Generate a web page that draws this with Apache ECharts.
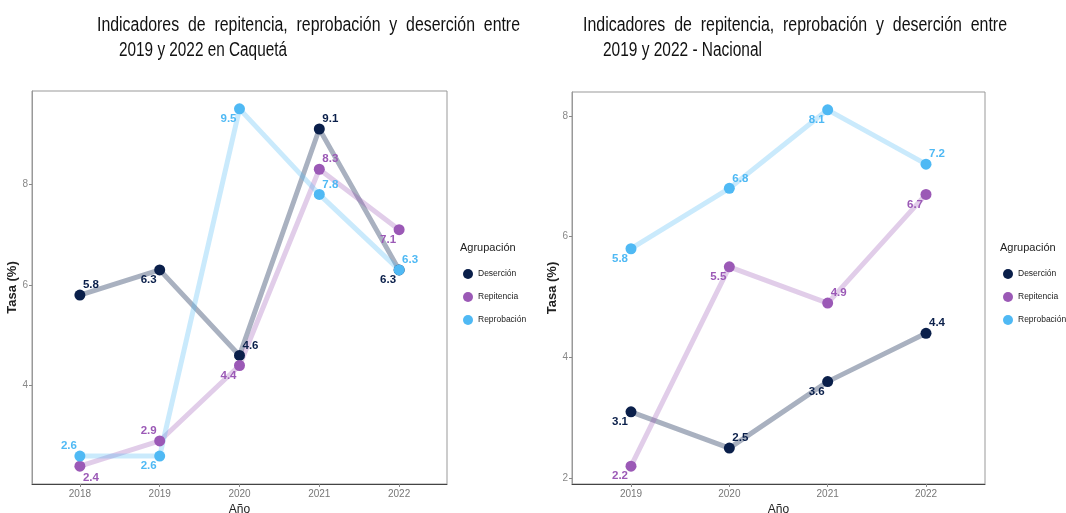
<!DOCTYPE html>
<html><head><meta charset="utf-8">
<script src="https://cdn.jsdelivr.net/npm/echarts@6/dist/echarts.min.js"></script>
<style>html,body{margin:0;padding:0;background:#fff}#c{width:1066px;height:513px}</style>
</head><body><div id="c"></div>
<script>
const seriesNames = ['Deserción', 'Repitencia', 'Reprobación'];
const yearsCaqueta = [2018, 2019, 2020, 2021, 2022];
const desercionCaqueta = [5.8, 6.3, 4.6, 9.1, 6.3];
const repitenciaCaqueta = [2.4, 2.9, 4.4, 8.3, 7.1];
const reprobacionCaqueta = [2.6, 2.6, 9.5, 7.8, 6.3];
const yearsNacional = [2019, 2020, 2021, 2022];
const desercionNacional = [3.1, 2.5, 3.6, 4.4];
const repitenciaNacional = [2.2, 5.5, 4.9, 6.7];
const reprobacionNacional = [5.8, 6.8, 8.1, 7.2];
const yTicksCaqueta = [4, 6, 8];
const yTicksNacional = [2, 4, 6, 8];
const titleCaqueta = ['Indicadores  de  repitencia,  reprobación  y  deserción  entre', '2019 y 2022 en Caquetá'];
const titleNacional = ['Indicadores  de  repitencia,  reprobación  y  deserción  entre', '2019 y 2022 - Nacional'];

// label placement (style only)
const placeCaqueta = [
  ['tr', 'bl', 'tr', 'tr', 'bl'],
  ['br', 'tl', 'bl', 'tr', 'bl'],
  ['tl', 'bl', 'bl', 'tr', 'tr']
];
const placeNacional = [
  ['bl', 'tr', 'bl', 'tr'],
  ['bl', 'bl', 'tr', 'bl'],
  ['bl', 'tr', 'bl', 'tr']
];
const offsets = { tr: [11, -10], bl: [-11, 10], tl: [-11, -10], br: [11, 12] };
const pointColors = ['#0a1f4a', '#9b59b6', '#4fb9f4'];
const lineColors = ['rgba(10,31,74,0.35)', 'rgba(155,89,182,0.3)', 'rgba(79,185,244,0.3)'];

const sans = '"Liberation Sans", Arial, sans-serif';

function buildSeries(gridIndex, years, groups, places) {
  const out = [];
  groups.forEach((vals, g) => {
    const data = years.map((y, i) => [y, vals[i]]);
    out.push({
      type: 'line', name: seriesNames[g], xAxisIndex: gridIndex, yAxisIndex: gridIndex,
      data: data, showSymbol: false, z: 2, silent: true,
      itemStyle: { color: pointColors[g] },
      lineStyle: { color: lineColors[g], width: 5 }
    });
  });
  groups.forEach((vals, g) => {
    const data = years.map((y, i) => ({
      value: [y, vals[i]],
      label: { offset: offsets[places[g][i]] }
    }));
    out.push({
      type: 'scatter', name: seriesNames[g], xAxisIndex: gridIndex, yAxisIndex: gridIndex,
      data: data, symbolSize: 11, z: 3,
      itemStyle: { color: pointColors[g], opacity: 1 },
      label: {
        show: true, position: 'inside', color: pointColors[g],
        fontFamily: sans, fontWeight: 'bold', fontSize: 11.5,
        formatter: p => p.value[1].toFixed(1)
      }
    });
  });
  return out;
}

function xAxisFor(gridIndex, years) {
  return {
    type: 'value', gridIndex: gridIndex,
    min: years[0] - 0.6, max: years[years.length - 1] + 0.6,
    name: 'Año', nameLocation: 'middle', nameGap: 19,
    nameTextStyle: { fontFamily: sans, fontSize: 12, color: '#222' },
    axisLine: { show: true, lineStyle: { color: '#444', width: 1 } },
    axisTick: { show: true, length: 3, customValues: years, lineStyle: { color: '#888' } },
    axisLabel: { customValues: years, fontFamily: sans, fontSize: 10, color: '#777', margin: 5, formatter: v => String(Math.round(v)) },
    splitLine: { show: false }
  };
}
function yAxisFor(gridIndex, ticks, min, max, gap) {
  return {
    type: 'value', gridIndex: gridIndex, min: min, max: max,
    name: 'Tasa (%)', nameLocation: 'middle', nameGap: gap,
    nameTextStyle: { fontFamily: sans, fontWeight: 'bold', fontSize: 13, color: '#222' },
    axisLine: { show: true, lineStyle: { color: '#999', width: 1 } },
    axisTick: { show: true, length: 3, customValues: ticks, lineStyle: { color: '#888' } },
    axisLabel: { customValues: ticks, fontFamily: sans, fontSize: 10, color: '#888', margin: 4 },
    splitLine: { show: false }
  };
}

const legendData = seriesNames.map((n, g) => ({ name: n, icon: 'circle', itemStyle: { color: pointColors[g] } }));
function legendAt(left) {
  return {
    orient: 'vertical', left: left, top: 269, padding: 0, itemWidth: 10, itemHeight: 10, itemGap: 13,
    data: legendData, textStyle: { fontFamily: sans, fontSize: 8.5, color: '#222' }
  };
}

// titles drawn as graphic text, horizontally condensed to mimic the narrow title font
const measureCtx = document.createElement('canvas').getContext('2d');
const titleFontSize = 20;
const titleFont = titleFontSize + 'px ' + sans;
function titleText(text, x, y, targetWidth) {
  measureCtx.font = titleFont;
  const w = measureCtx.measureText(text).width;
  return {
    type: 'text', x: x, y: y, scaleX: targetWidth / w, scaleY: 1, originX: 0, originY: 0,
    style: { text: text, font: titleFont, fill: '#111', verticalAlign: 'middle', align: 'left' }
  };
}
function smallTitle(text, x, y) {
  return {
    type: 'text', x: x, y: y,
    style: { text: text, font: '11px ' + sans, fill: '#222', verticalAlign: 'middle', align: 'left' }
  };
}

const chart = echarts.init(document.getElementById('c'), null, { renderer: 'canvas' });
chart.setOption({
  animation: false,
  backgroundColor: '#fff',
  graphic: [
    titleText(titleCaqueta[0], 97, 25, 423),
    titleText(titleCaqueta[1], 119, 50, 168),
    titleText(titleNacional[0], 583, 25, 424),
    titleText(titleNacional[1], 603, 50, 159),
    smallTitle('Agrupación', 460, 248),
    smallTitle('Agrupación', 1000, 248)
  ],
  legend: [legendAt(463), legendAt(1003)],
  grid: [
    { left: 32, top: 91, width: 415, height: 393, show: true, borderColor: '#999', borderWidth: 1, backgroundColor: 'transparent', outerBoundsMode: 'none', containLabel: false },
    { left: 572, top: 92, width: 413, height: 392, show: true, borderColor: '#999', borderWidth: 1, backgroundColor: 'transparent', outerBoundsMode: 'none', containLabel: false }
  ],
  xAxis: [xAxisFor(0, yearsCaqueta), xAxisFor(1, yearsNacional)],
  yAxis: [yAxisFor(0, yTicksCaqueta, 2.045, 9.855, 11), yAxisFor(1, yTicksNacional, 1.905, 8.395, 12.5)],
  series: [].concat(
    buildSeries(0, yearsCaqueta, [desercionCaqueta, repitenciaCaqueta, reprobacionCaqueta], placeCaqueta),
    buildSeries(1, yearsNacional, [desercionNacional, repitenciaNacional, reprobacionNacional], placeNacional)
  )
});
</script>
</body></html>
